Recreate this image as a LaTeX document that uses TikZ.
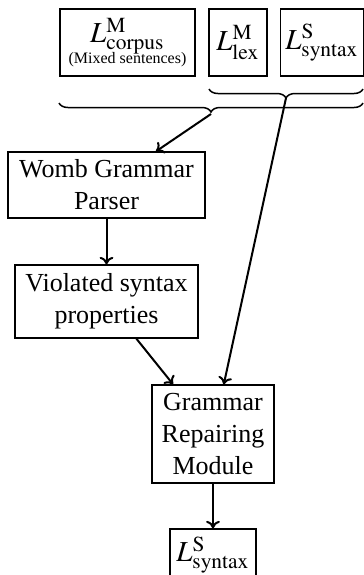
\documentclass[tikz,border=0pt]{standalone}
\usepackage{mathptmx}
\usepackage{fontspec}
\setmainfont{Liberation Serif}
\usepackage{tikz}
\usetikzlibrary{arrows.meta,decorations.pathreplacing}

\begin{document}
\begin{tikzpicture}[
        x=0.4pt,y=-0.4pt,
        every node/.style={font=\fontsize{10.4}{12.8}\selectfont},
        box/.style={rectangle,draw=black,fill=white,inner sep=2pt,
                    align=center,line width=0.5pt},
        lang/.style={box,font=\fontsize{11.6}{13}\selectfont},
        arr/.style={-{To[length=3pt,width=5.5pt]},line width=0.8pt},
        brc/.style={decorate,decoration={brace,amplitude=3.6pt},line width=0.6pt}
      ]
        \useasboundingbox (0,0) rectangle (364,575);
        % lexicons and corpus
        \node[lang,minimum width=54pt,minimum height=26.8pt] (corpus) at (127.5,42.5)
          {$L^{\mathrm{M}}_{\mathrm{corpus}}$\\[-4.6pt]{\fontsize{6.4}{7}\selectfont(Mixed sentences)}};
        \node[lang,minimum width=23.2pt,minimum height=26.8pt] (lex) at (238,42.5)
          {$L^{\mathrm{M}}_{\mathrm{lex}}$};
        \node[lang,minimum width=32.8pt,minimum height=26.8pt] (syn) at (322,42.5)
          {$L^{\mathrm{S}}_{\mathrm{syntax}}$};
        % braces
        \coordinate (sbR) at (363,89);
        \coordinate (sbL) at (209,89);
        \coordinate (sbtip) at (286,98);
        \coordinate (bbR) at (363,103);
        \coordinate (bbL) at (59,103);
        \coordinate (bbtip) at (211,114);
        \draw[brc] (sbR) -- (sbL);
        \draw[brc] (bbR) -- (bbL);
        % processing steps
        \node[box,minimum width=78.8pt,minimum height=26.4pt] (womb) at (106.5,185)
          {Womb Grammar\\Parser};
        \node[box,minimum width=73.2pt,minimum height=29.2pt] (viol) at (106.5,301.5)
          {Violated syntax\\properties};
        \node[box,minimum width=48.8pt,minimum height=39.2pt] (repair) at (213,434)
          {Grammar\\Repairing\\Module};
        \node[lang,minimum width=34.4pt,minimum height=20.8pt] (out) at (213,555)
          {$L^{\mathrm{S}}_{\mathrm{syntax}}$};
        \draw[arr] (bbtip) -- (womb);
        \draw[arr] (womb) -- (viol);
        \draw[arr] (viol) -- (repair);
        \draw[arr] (sbtip) -- (repair);
        \draw[arr] (repair) -- (out);
      \end{tikzpicture}
\end{document}
